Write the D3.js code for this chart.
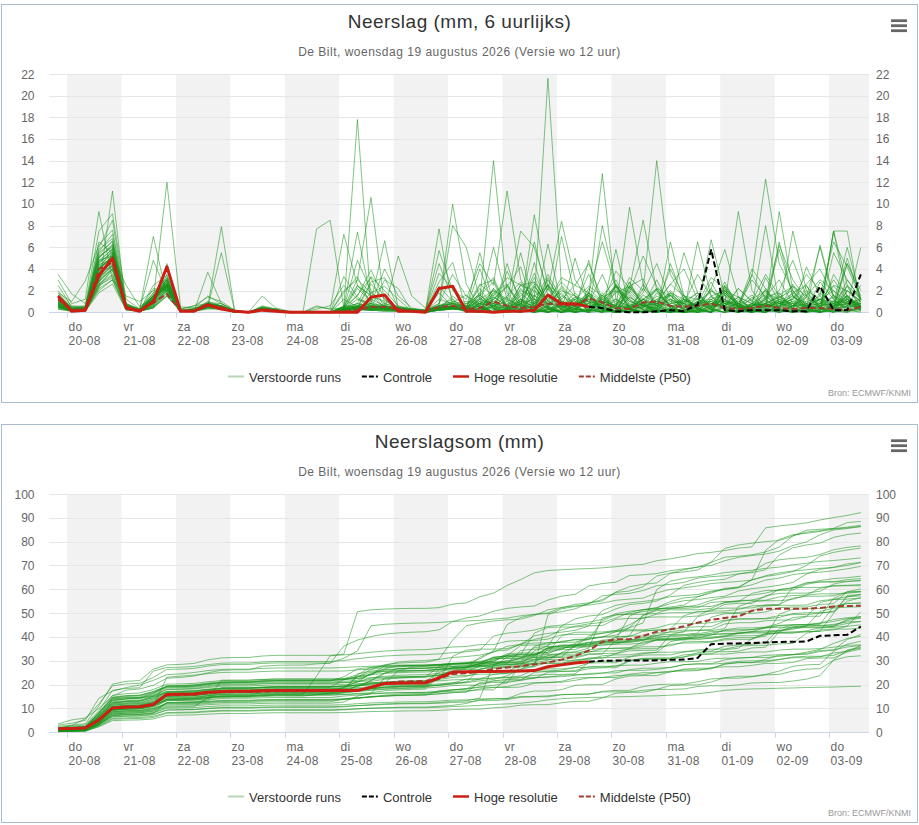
<!DOCTYPE html>
<html>
<head>
  <meta charset="utf-8">
  <title>Neerslag De Bilt - ECMWF pluim</title>
  <script src="https://d3js.org/d3.v7.min.js"></script>
  <style>
    body { margin: 0; background: #fff; }
    svg { font-family: "Liberation Sans", Arial, sans-serif; }
    .tick-label { fill: #666; font-size: 12px; }
    .x-label { fill: #666; font-size: 12px; letter-spacing: 0.3px; }
    .title { fill: #333; font-size: 19px; letter-spacing: 0.5px; }
    .subtitle { fill: #666; font-size: 12px; letter-spacing: 0.5px; }
    .legend-text { fill: #333; font-size: 13px; }
    .credit { fill: #999; font-size: 9px; }
  </style>
</head>
<body>
<svg id="chart" width="919" height="825"></svg>
<script>
// dagen op de x-as (middernacht lokale tijd)
const dayNames = ["do","vr","za","zo","ma","di","wo","do","vr","za","zo","ma","di","wo","do"];
const dayDates = ["20-08","21-08","22-08","23-08","24-08","25-08","26-08","27-08","28-08","29-08","30-08","31-08","01-09","02-09","03-09"];

// 6-uurlijkse neerslag (mm) van de 50 verstoorde runs
// stap 0 = wo 19-08 20 uur, daarna elke 6 uur (60 stappen)
const members = [
  [2.5,0.5,0.6,7.5,9.1,1.2,0.3,4.8,1.8,0.2,0.4,1.5,0.8,0.2,0,0.6,0.3, 0,0,0,0,0.5,17.8,0.8,0.3,0.2,0.1,0,0.3,1.5, 0.5,2.6,1.5,3.2,2.5,2.8,1.0,0.3,0.3,0.2,0.3,0.5,0.6,0.4,1.5,0.8,1.0,1.2,0.5,0.8,1.0,0.5,8.0,0.8,0.6,0.7,1.2,1.0,0.9,1.2],
  [1.8,1.0,2.9,6.2,7.6,0.8,0.2,2.5,3.4,0.1,0.3,1.0,0.6,0.1,0,0.4,0.2, 0,0,0,0,2.0,3.0,10.6,0.6,0.3,0.2,0.1,0.2,0.4, 0.2,0.3,0.5,0.4,1.0,0.6,0.3,0.8,1.2,2.4,1.5,3.0,0.6,1.8,4.5,1.2,0.5,0.8,3.2,2.2,0.4,0.6,1.2,2.0,4.8,1.5,0.6,1.0,2.4,0.5],
  [3.5,1.7,0.8,4.0,5.2,2.5,0.5,1.5,3.0,0.3,0.6,1.4,1.0,0.2,0,1.5,0.4, 0.1,0,0.5,0.3,7.2,2.5,1.5,1.0,0.5,0.3,0.2,0.8,3.5, 1.5,0.8,2.0,1.2,0.6,0.4,2.5,1.6,0.8,3.5,1.0,0.6,2.8,0.3,0.5,1.2,0.8,0.6,2.2,5.8,1.4,0.8,0.6,0.5,1.8,2.5,0.4,0.3,0.6,0.8],
  [1.2,0.3,0.4,6.5,5.5,0.6,0.2,1.8,2.5,0.1,0.2,0.9,0.8,0.1,0,0.4,0.2, 0,0,0,0,0.3,1.2,0.8,4.0,1.5,0.4,0.2,0.6,8.0, 6.0,1.2,0.8,0.5,0.3,1.5,2.4,1.0,0.6,0.8,3.5,0.6,0.4,1.2,2.0,0.6,0.8,1.8,0.6,0.4,0.8,0.5,1.2,6.2,3.0,1.2,0.8,2.4,1.2,0.6],
  [0.8,0.2,0.2,3.8,4.2,0.5,0.2,1.2,12.0,0.5,0.4,0.6,0.5,0.1,0,0.3,0.2, 0,0,0,0,0,0.5,0.3,0.6,0.4,0.2,0.1,0.3,0.5, 0.4,1.8,3.2,0.5,2.5,2.0,1.2,2.8,1.5,1.0,0.6,1.8,2.4,1.2,0.8,2.6,1.5,0.5,2.0,1.0,0.8,3.4,12.3,4.5,2.0,0.6,0.8,1.0,0.5,0.6],
  [0.6,0.1,0.2,3.0,5.5,0.4,0.1,0.8,3.2,0.1,0.1,0.6,0.5,0,0,0.3,0.2, 0,0,0,0,0.2,0.4,0.3,0.8,0.4,0.2,0.1,5.7,2.0, 1.2,4.5,2.5,11.2,3.0,1.2,0.8,2.0,1.5,0.6,0.8,3.8,2.2,1.0,0.6,4.0,1.5,1.2,0.6,2.0,1.4,0.8,0.6,1.2,2.4,1.5,3.0,2.0,0.6,0.8],
  [0.5,0.1,0.1,2.4,4.0,0.3,0.1,0.5,4.5,0.1,0.2,0.8,0.6,0.1,0,0.2,0.1, 0,0,0,0,0.6,0.4,0.5,0.3,0.2,0.1,0.1,0.4,0.6, 0.5,0.8,0.6,1.0,7.5,6.0,2.0,8.4,3.0,1.2,0.6,2.4,1.8,0.5,1.0,2.6,4.0,1.2,0.8,0.5,2.2,1.0,3.5,1.5,0.6,0.4,1.2,2.0,1.0,0.6],
  [1.5,0.4,0.3,5.8,6.8,0.6,0.2,1.5,2.2,0.1,0.2,0.7,0.5,0.1,0,0.5,0.3, 0,0,0.1,0,0.5,0.8,3.3,2.0,0.6,0.3,0.1,1.2,0.8, 0.4,0.6,1.2,2.5,0.8,3.6,1.0,0.5,0.8,1.8,6.5,2.2,1.0,0.6,0.8,1.2,0.5,0.4,1.5,0.8,0.6,1.2,2.0,0.8,1.5,0.6,0.4,0.6,0.8,1.0],
  [0.4,0.2,0.2,2.2,11.2,0.3,0.1,0.4,1.5,0.1,0.1,0.5,0.4,0,0,0.2,0.1, 0,0,0,0,0.1,0.3,0.2,0.4,0.3,0.2,0,0.3,0.6, 0.8,1.2,2.0,0.6,1.5,2.8,1.0,3.2,2.5,4.5,1.2,0.6,1.8,5.2,2.4,1.0,0.8,3.5,1.5,2.0,0.6,3.0,1.4,0.8,1.2,2.6,4.0,1.5,1.0,0.8],
  [1.0,0.2,0.3,4.2,5.0,0.4,0.1,1.2,2.8,0.1,0.2,0.6,0.5,0.1,0,0.3,0.2, 0,0,0,0,0.2,0.5,0.4,0.6,0.3,0.1,0.1,0.4,0.5, 0.5,0.8,0.6,1.5,2.8,1.2,21.6,2.5,1.0,0.6,0.8,1.2,0.5,0.4,2.2,1.5,0.6,0.8,1.0,0.5,0.4,0.6,1.8,1.2,0.8,0.5,0.6,0.4,0.8,1.2],
  [0.9,0.3,0.4,5.0,6.2,0.5,0.2,1.6,3.0,0.1,0.2,0.8,0.6,0.1,0,0.4,0.2, 0,0,0,0,0.3,0.6,0.8,0.4,0.3,0.2,0.1,0.6,1.0, 0.6,1.0,0.8,0.5,1.2,0.8,2.5,1.0,0.6,1.5,12.8,1.2,0.5,0.8,1.0,0.6,0.4,0.8,2.0,1.2,0.6,0.4,0.8,1.5,0.6,2.0,1.2,0.8,0.4,0.6],
  [0.7,0.2,0.2,3.2,4.5,0.4,0.1,1.0,3.0,0.1,0.1,0.5,7.9,0,0,0.3,0.2, 0,0,0,0,0,0.2,0.3,0.6,0.4,0.2,0.1,0.5,0.8, 1.0,0.8,1.4,0.6,2.0,1.5,0.8,1.2,2.5,1.8,1.0,0.6,3.2,2.0,14.0,3.5,1.2,0.6,0.8,1.0,0.6,0.4,0.8,0.5,1.0,0.6,0.8,0.4,0.5,0.6],
  [2.0,0.6,0.5,6.0,8.5,0.8,0.3,7.0,1.5,0.1,0.3,0.8,0.6,0.1,0,0.4,0.2, 0,0,0,0,0.4,0.8,0.6,0.5,0.3,0.2,0.1,0.3,0.5, 0.4,0.6,6.0,1.2,0.5,0.8,1.5,0.6,0.4,0.8,1.2,2.4,1.0,0.6,0.8,1.8,1.2,0.5,0.8,0.6,2.2,1.0,0.6,0.8,1.2,3.5,2.0,0.8,1.5,0.6],
  [1.2,0.2,0.3,4.8,5.2,0.5,0.2,1.4,2.6,0.1,0.2,0.7,0.5,0.1,0,0.3,0.2, 0,0,0,0,0.3,2.4,1.6,0.3,0.2,0.1,0,0.6,1.2, 0.2,2.5,3.0,0.3,0,0.8,3.5,1.2,0,0.2,1.8,0.4,9.7,2.5,0.6,0.1,0,0.3,2.2,0.4,0,0.6,1.4,3.0,0.8,0.1,0,0.5,0.2,0],
  [0.8,0.1,0.2,3.6,4.8,0.6,0.2,1.2,2.4,0.2,0.3,0.9,0.6,0.1,0,0.4,0.2, 0,0,0,0,0.5,7.4,1.2,0.6,0.4,0.2,0.1,0.4,0.8, 0,0.3,1.8,2.6,0.4,0,0.2,7.0,1.5,0,0.1,0.6,2.4,3.1,0.2,0,0,0.4,2.8,0.5,0,0.1,1.2,0.3,2.6,0.8,0,0.2,1.6,0.3],
  [0.5,0.2,0.1,2.8,4.0,0.4,0.2,0.8,3.5,0.1,0.1,0.5,5.5,0,0,0.2,0.2, 0,0,0,0,0.2,0.4,0.6,0.3,5.2,1.5,0.4,0.2,0.6, 0.1,0,1.2,2.4,4.2,0.3,0,1.5,0.6,0,8.0,2.5,0.2,0,0.4,2.0,0.8,0,0.1,1.6,0.4,3.5,1.2,0,0.2,2.4,1.0,0.1,0,0.6],
  [1.4,0.3,0.5,5.2,6.0,0.7,0.3,1.8,3.2,0.2,0.2,0.6,0.5,0.1,0,0.3,0.2, 0,0,0,0,1.8,3.3,0.6,0.5,0.2,0.1,0.1,0.3,0.5, 0,0.2,2.2,1.0,0.3,9.0,2.4,0.2,0,0.5,0.1,2.6,0.4,0,1.8,0.6,0,0.2,0.5,2.8,0.4,0,3.2,1.0,0.1,0,0.8,3.0,1.2,0.2],
  [1.0,0.2,0.3,4.0,5.8,0.5,0.1,1.0,2.9,0.1,0.2,0.8,0.6,0.1,0,0.4,0.2, 0,0,0,0,0.3,0.5,2.8,3.2,0.4,0.3,0.2,0.6,0.4, 0.3,1.6,2.8,0.2,0,0.4,3.2,0.8,0,1.5,0.6,0.1,2.2,8.5,2.0,0.3,0,0,0.6,2.5,0.8,0.1,0,1.4,0.6,0.2,2.8,1.2,0.1,0.3],
  [0.6,0.1,0.2,2.6,3.8,0.3,0.1,0.6,2.2,0.1,0.1,3.7,0.8,0.1,0,0.5,0.3, 0,0,0,0,0.5,3.0,1.8,0.8,0.5,0.3,0.2,4.5,1.2, 0.2,0,0.8,2.4,0.5,0,1.6,0.3,0,2.2,1.0,0,0.1,0.6,3.0,0.4,0,6.5,1.5,0.2,0,0.8,2.0,0.3,0,0.1,1.8,0.6,1.2,0.2],
  [1.3,0.4,0.4,4.6,5.5,0.6,0.2,2.2,2.0,0.1,0.2,0.6,0.5,0.1,0,0.3,0.2, 0,0,0,0,0.2,0.3,0.5,0.4,0.3,0.1,0.1,0.8,10.0, 2.6,0.4,0,0.2,1.8,0.6,0,0.3,1.2,0.1,0.8,2.4,0.3,0,0.2,0.6,5.5,1.8,0.2,0,0.6,1.6,0.2,0,7.5,2.0,0.3,0,1.0,0.4],
  [0.8,0.2,0.2,3.5,4.6,0.4,0.2,1.2,2.5,0.1,0.2,0.6,0.4,0.1,0,0.3,0.2, 0,0,0.3,0.6,2.5,1.2,0.6,0.4,0.3,0.2,0.1,0.5,0.8, 0.4,1.8,0.3,0,2.6,0.8,0.1,0,1.4,0.6,0,2.0,1.2,0.2,0,6.5,1.5,0.3,0,0.8,9.3,2.0,0.4,0,0.6,1.8,0.5,0,0.2,0.6],
  [1.1,0.2,0.3,4.4,4.9,0.5,0.2,1.3,3.1,0.1,0.2,0.7,0.5,0.1,0,0.3,0.2, 0,0,0,0,0.4,4.8,2.0,0.3,0.2,0.1,0,0.4,0.6, 0.2,0.6,0,3.8,1.2,0,0.3,2.4,0.5,0,1.6,0.2,0,0.8,2.2,0.4,0,0.5,6.7,1.5,0.1,0,0.6,1.8,0.3,0,1.0,0.4,5.0,1.2],
  [0.9,0.2,0.2,3.9,5.1,0.4,0.1,1.1,2.7,0.1,0.2,0.6,0.5,0.1,0,0.3,0.2, 0,0,0,0,0.3,0.8,0.5,0.4,0.3,0.2,0.1,0.6,0.9, 1.6,0.4,0,0.2,0.8,2.6,0.3,0,0.6,1.8,0.2,0,2.4,0.8,0.1,0,1.2,0.4,0,2.0,0.6,0.2,0.8,5.8,1.5,0.3,0,7.5,1.2,0.2],
  [1.6,0.5,0.4,5.5,6.5,0.8,0.2,1.6,2.4,0.1,0.3,0.8,0.5,0.1,0,0.4,0.2, 0,0,0,0,0.2,0.4,1.8,2.4,1.2,0.1,0.1,0.3,0.5, 0.3,0,2.2,0.6,0,0.4,3.0,1.0,0,0.2,0.8,2.6,0.4,0,0.1,1.8,0.6,0,0.2,2.4,0.5,0,0.8,0.3,0,1.4,6.0,1.2,0.2,0.4],
  [0.5,0.1,0.1,2.5,3.2,0.3,0.1,0.5,2.0,0.1,0.1,0.4,0.3,0,0,0.2,0.1, 0,0,0,0,0.2,0.5,0.4,0.3,0.2,0.1,0,0.3,0.5, 0.2,1.2,14.0,1.8,0.2,0,0.6,2.2,0.4,0,1.4,0.3,0,2.6,0.8,0.1,0,1.6,0.4,2.2,0.8,0,0.3,1.6,2.4,0.6,0,7.5,2.5,0.4],
  [1.2,0.3,0.3,4.5,5.6,0.5,0.2,1.4,2.7,0.1,0.2,0.7,0.5,0.1,0,0.4,0.2, 0,0,0,0,3.3,1.4,0.6,0.5,0.3,0.2,0.1,0.4,0.6, 0.1,0,1.6,0.4,0,2.4,0.6,0,0.3,1.2,0.2,0,2.0,0.8,0,0.4,1.6,0.2,0,1.2,0.4,0,0.6,9.3,2.0,0.3,0,0.8,1.4,0.2],
  [0.7,0.2,0.2,3.8,5.3,0.4,0.2,1.0,2.6,0.1,0.2,0.6,0.4,0.1,0,0.3,0.2, 0,0,0,0,0.4,0.6,0.5,0.4,0.3,0.2,0.1,7.7,0.6, 0.2,1.4,0.3,0,0.6,6.5,1.5,0.2,0,1.8,0.4,0,0.2,2.2,0.6,0,1.0,0.3,0,2.4,0.8,0.1,0,0.6,1.6,0.4,0,0.3,4.5,1.5],
  [1.5,0.3,0.4,5.0,6.3,0.6,0.2,1.5,2.8,0.1,0.2,0.7,0.5,0.1,0,0.3,0.2, 0,0,0,0,0.2,0.3,0.4,3.0,2.2,0.1,0,0.3,0.4, 0.4,0,1.2,0.3,0,2.0,0.5,0,0.2,1.6,0.3,0,0.8,0.2,0,1.8,0.6,0,0.3,1.0,0.2,0,2.2,0.4,0,0.6,0.2,7.5,7.5,0.4],
  [0.6,0.1,0.2,3.0,4.3,0.4,0.1,0.8,2.3,0.1,0.1,0.5,0.4,0,0,0.3,0.2, 0,0,0,0,0.3,0.5,0.8,0.6,0.4,0.2,0.1,0.6,0.8, 0.6,2.2,0.4,0,1.0,3.2,0.5,0,0.3,1.6,0.2,0,2.4,0.8,0,0.2,1.4,0.4,0,1.8,0.6,4.0,2.2,0.3,0,0.8,1.2,0.2,0.6,6.0],
  [1.3,0.3,0.3,4.6,5.9,0.6,0.2,1.3,2.5,0.1,0.2,0.6,0.5,0.1,0,0.3,0.2, 0,0,0,0,0.5,1.5,3.9,1.2,0.4,0.2,0.1,0.3,0.5, 0.1,0,0.8,0.3,5.5,0.6,0,0.2,1.2,0.3,0,0.4,1.6,0.2,0,0.1,0.8,0.3,0,0.5,1.4,0.2,0,0.6,1.2,0.3,0,0.2,3.0,1.2],
  [1.0,0.2,0.3,4.1,5.0,0.5,0.2,1.2,2.6,0.1,0.2,0.7,0.5,0.1,0,0.4,0.2, 0,0,0,0,0.2,0.6,0.4,0.5,0.3,0.2,0.1,2.8,4.6, 0.3,1.6,0.4,0,0.2,2.4,0.8,0,0.1,1.8,0.6,0,0.3,1.2,2.2,0.4,0,0.2,1.4,0.6,0,0.8,1.6,0.2,0,0.4,6.2,1.5,0.3,0.2],
  [0.8,0.2,0.2,3.4,4.7,0.4,0.1,1.1,2.4,0.1,0.2,0.6,0.4,0.1,0,0.3,0.2, 0,0,0.6,0.3,0.4,0.6,0.5,0.4,0.3,0.2,0.1,0.4,0.6, 0.2,0,1.8,0.6,0,0.4,2.6,0.3,0,1.2,0.4,0,2.8,0.6,0.1,0,1.0,1.8,0.4,0,0.2,1.4,0.3,6.5,1.5,0.2,0,0.6,1.2,0.8],
  [1.8,0.4,0.5,5.6,7.2,0.7,0.3,1.5,2.2,0.1,0.2,0.7,0.5,0.1,0,0.3,0.2, 0,0,0,0,0.2,1.6,3.2,0.3,0.2,0.1,0.1,0.3,0.4, 0.2,0.6,0,0.3,1.2,0.4,0,0.2,5.0,0.8,0,0.1,0.6,1.0,0.2,0,0.4,1.2,0.3,0,0.2,0.8,0.4,0,0.6,1.4,0.3,0,2.0,1.0],
  [0.5,0.1,0.1,2.9,4.1,0.3,0.1,0.7,2.1,0.1,0.1,0.5,0.3,0,0,0.2,0.1, 0,0,0,0,0.5,2.5,1.0,6.6,0.4,0.2,0.1,0.6,0.8, 0.4,0,1.4,0.6,0.2,0,2.2,0.5,0,0.3,1.6,0.4,0,0.8,0.2,4.5,1.2,0.3,0,0.6,1.4,0.2,0,0.8,1.8,0.4,0,0.6,1.0,0.2],
  [1.1,0.3,0.3,4.3,5.4,0.5,0.2,1.3,2.6,0.1,0.2,0.6,0.5,0.1,0,0.3,0.2, 0,0,0,0,0.3,0.4,0.5,0.3,0.2,0.1,0.1,0.4,0.5, 0.3,5.5,0.8,0,0.2,1.0,0.4,0,0.6,1.6,0.2,0,0.4,1.2,0.6,0,0.2,0.8,0.3,0,1.2,0.4,0,0.6,0.2,4.2,1.5,0.3,0,0.4],
  [0.9,0.2,0.2,3.7,4.9,0.4,0.2,1.0,2.5,0.1,0.2,0.6,0.4,0.1,0,0.3,0.2, 0,0,7.7,8.5,0.4,0.5,0.6,0.5,0.3,0.2,0.1,0.5,0.6, 0.2,0.8,0,1.4,0.3,0,0.6,1.8,0.2,0,0.4,1.2,0.3,0,0.8,1.6,0.2,0,0.4,1.0,0.6,0,0.2,1.2,0.4,0,0.6,0.8,6.0,1.2],
  [1.4,0.3,0.4,5.1,6.1,0.6,0.2,1.4,2.4,0.1,0.2,0.6,0.5,0.1,0,0.3,0.2, 0,0,0,0,0.2,0.3,0.4,0.3,0.2,0.1,0.1,3.6,2.2, 0.1,0.4,0,0.8,0.2,0,6.3,0.6,0,0.2,0.8,0.3,0,0.4,1.2,0.2,0,0.1,0.6,0.8,0.2,0,0.4,1.0,0.3,0,0.2,0.6,1.5,0.6],
  [0.3,0.1,0.1,2.0,3.0,0.2,0.1,0.4,1.8,0.1,0.1,0.4,0.3,0,0,0.2,0.1, 0,0,0,0,0.2,0.4,0.3,0.2,0.2,0.1,0,0.3,0.4, 0.8,1.6,0.4,0,2.2,1.0,0,0.6,1.8,0.3,0,2.4,1.2,0.2,0,1.6,0.8,0,0.4,2.0,0.6,0,1.4,1.8,0.3,0,1.2,0.6,4.5,2.0],
  [0.6,0.2,0.2,3.1,4.4,0.4,0.1,0.9,2.2,0.1,0.1,0.5,0.4,0.1,0,0.2,0.1, 0,0,0,0,0.3,0.4,0.5,0.4,0.3,0.2,0.1,0.4,0.5, 0.3,1.2,0.6,0,0.2,1.6,0.4,0,0.8,1.0,0.2,0,1.4,0.6,0,0.3,1.2,0.4,0,1.8,0.6,0,0.2,1.0,0.8,0,0.4,1.6,0.6,2.5],
  [1.0,0.2,0.3,4.0,5.2,0.5,0.2,1.1,2.5,0.1,0.2,0.6,0.5,0.1,0,0.3,0.2, 0,0,0,0,0.3,2.2,1.0,0.4,0.2,0.1,0.1,0.3,0.4, 0.2,0,0.6,0.3,0,0.8,0.4,0,0.2,4.8,0.6,0,0.3,0.8,0.2,0,0.4,1.0,0.2,0,0.6,0.3,0,0.8,0.4,0,0.2,0.6,0.8,0.2],
  [0.4,0.1,0.1,2.2,3.0,0.3,0.1,0.5,1.6,0.1,0.1,0.4,0.3,0,0,0.2,0.1, 0,0,0,0,0.1,0.3,0.2,0.1,0.1,0,0,0.2,0.3, 0.2,0.3,0.4,0.2,0.3,0.6,0.8,0.5,0.3,0.2,0.1,0.2,0.1,0.2,0.1,0.3,0.2,0.4,0.6,0.8,0.4,0.2,0.1,0.2,0.1,0.2,0.1,0.1,0.2,0.1],
  [0.5,0.1,0.2,2.4,3.4,0.3,0.1,0.6,1.8,0.1,0.1,0.5,0.3,0,0,0.2,0.1, 0,0,0,0,0.2,0.3,0.2,0.3,0.2,0.1,0,0.2,0.3, 0.2,0.6,0,0.4,1.0,0.2,0,0.8,0.3,0,1.2,0.4,0,1.6,0.8,0.2,0,1.0,1.2,0.3,0,0.6,0.8,0.2,1.4,0.8,0.2,3.5,1.5,0.4],
  [0.6,0.1,0.2,2.6,3.5,0.3,0.1,0.7,2.0,0.1,0.1,0.5,0.3,0,0,0.2,0.1, 0,0,0,0,0.2,0.4,0.3,0.2,0.2,0.1,0,0.3,0.4, 0.1,0.4,0,0.2,0.8,0,0.3,0.6,0,0.2,0.8,0.1,0,0.6,0.4,0,0.2,1.0,0.3,0,0.4,0.8,0.2,0,0.6,0.8,1.5,6.5,4.2,1.2],
  [0.7,0.2,0.2,2.9,4.0,0.4,0.1,0.8,2.1,0.1,0.1,0.5,0.4,0,0,0.2,0.1, 0,0,0,0,1.2,0.5,0.4,0.3,0.2,0.1,0.1,1.8,0.5, 0.2,0.8,0,0.3,1.2,0.4,0,0.6,1.4,0.2,0,0.8,0.3,0,1.0,0.6,0,0.2,1.2,0.4,0,0.6,0.8,0,0.4,1.6,0.3,0,2.5,1.2],
  [0.9,0.2,0.2,3.6,4.8,0.4,0.2,1.0,2.4,0.1,0.2,0.6,0.4,0.1,0,0.3,0.2, 0,0,0,0,0.2,0.3,0.2,0.2,0.1,0.1,0,0.2,0.3, 0.2,0.4,0,4.5,0.6,0,0.2,0.8,0.3,0,0.6,1.0,0.2,0,0.4,0.8,1.2,0.2,0,0.4,0.8,0.2,0,0.6,1.0,0.3,0,0.4,2.0,1.0],
  [1.2,0.3,0.3,4.8,5.8,0.6,0.2,1.3,2.5,0.1,0.2,0.6,0.5,0.1,0,0.3,0.2, 0,0,0,0,0.2,0.3,0.3,0.2,0.2,0.1,0,2.4,1.0, 0.1,0.6,0,0.3,0.8,0.2,0,0.4,1.0,0.2,0,0.6,0.3,0,0.8,0.6,0,0.2,1.0,0.3,0,0.4,0.8,0.2,0,0.6,1.2,0.3,1.2,0.6],
  [0.3,0.1,0.1,1.8,2.6,0.2,0.1,0.4,1.5,0.1,0.1,0.3,0.3,0,0,0.2,0.1, 0,0,0,0,0.1,0.2,0.2,0.1,0.1,0.1,0,0.2,0.3, 0.2,0,0.6,0.3,0.8,0.2,0,0.8,0.6,0,1.4,2.0,0.4,0,1.2,1.6,0.3,0,1.2,1.8,0.6,0,0.8,1.4,2.0,0.6,0.2,5.5,3.0,1.2],
  [0.7,0.2,0.2,3.2,4.3,0.4,0.1,0.9,2.3,0.1,0.1,0.5,0.4,0.1,0,0.2,0.1, 0,0,0,0,0.3,0.4,0.3,0.4,0.3,0.1,0.1,0.4,0.5, 0.3,4.0,0.6,0,0.2,1.2,0.4,0,0.6,0.8,0.2,0,1.4,0.6,0,0.3,1.2,0.4,0,1.6,0.8,0.2,0,0.4,0.8,1.0,1.2,2.5,2.0,1.0],
  [1.6,0.4,0.4,5.3,6.6,0.7,0.2,1.5,2.3,0.1,0.2,0.7,0.5,0.1,0,0.3,0.2, 0,0,0,0,0.3,0.4,2.6,1.2,0.2,0.1,0.1,0.3,0.4, 0.4,1.0,0.2,0,0.8,1.2,0.3,0,0.6,1.4,0.2,5.8,0.4,0,0.6,1.0,0.2,0,0.8,1.2,0.3,0,0.6,1.0,0.4,0,0.8,1.4,0.8,0.4],
  [3.0,0.8,1.2,9.3,3.0,1.5,1.0,2.0,2.4,0.3,0.6,0.8,0.5,0.1,0,0.3,0.2, 0,0,0,0,0.2,0.3,0.2,0.3,0.2,0.1,0,0.2,0.3, 0.2,0.8,1.0,0.2,0,4.6,0.4,0,0.8,1.0,0.2,0,0.6,1.2,0.3,0,0.4,0.8,1.0,0.2,0,0.6,1.0,0.8,0.2,0,0.6,0.8,1.2,0.4]
];
// hoge resolutie: 40 stappen (tot 29-08 20 uur)
const hres6h = [1.5,0.1,0.2,3.4,5.0,0.4,0.1,1.0,4.2,0.1,0.1,0.7,0.3,0.1,0,0.2,0.1, 0,0,0,0,0,0,1.4,1.6,0.1,0.1,0,2.2,2.4, 0.1,0.1,0,0.1,0.1,0.2,1.6,0.8,0.8,0.5];
// controle-run: getoond vanaf het einde van de hoge resolutie (stap 39)
const controlStart = 39;
const control6h = [0.5,0.4,0.1,0,0,0.1,0.2,0.1,0.7,5.8,0.2,0.1,0.2,0.2,0.2,0.1,0.1,2.4,0.2,0.2,3.5];
const p50_6h = [1.2,0.2,0.3,4.0,4.6,0.5,0.2,0.9,1.7,0.1,0.2,0.6,0.5,0.05,0,0.3,0.2, 0,0,0,0,0.1,0.2,0.5,0.5,0.3,0.1,0.1,0.5,0.6, 0.3,0.4,1.0,0.6,0.4,0.5,0.8,0.7,0.6,1.3,0.9,0.4,0.3,0.9,1.0,0.6,0.5,0.6,0.8,0.4,0.3,0.4,0.6,0.4,0.3,0.4,0.4,0.3,0.2,0.5];
// mediaan van de neerslagsom (mm)
const p50Sum = [1.5,1.7,1.8,5.2,10.2,10.5,10.7,11.8,15.5,15.7,15.9,16.4,16.8,16.9,16.9,17.1,17.2, 17.2,17.2,17.3,17.3,17.4,17.6,18.8,20.6,21.3,21.4,21.5,22.6,24.5, 24.8,25.4,26.6,27.2,27.8,28.5,29.3,30.5,32.0,34.3,38.0,39.0,39.0,40.5,42.2,43.2,44.5,46.0,47.2,48.0,48.6,51.0,51.8,51.8,51.8,51.9,52.2,52.8,53.0,53.1];

// uren na do 20-08 00 uur voor elke stap
const stepHours = members[0].map((d, i) => -4 + 6 * i);

const W = 919;
const plotLeft = 49, plotRight = 869;
const svg = d3.select("#chart");

const x = d3.scaleLinear().domain([-8, 353.6]).range([plotLeft, plotRight]);

// series als [uur, waarde] paren
const toPoints = (vals, start = 0) => vals.map((v, k) => [stepHours[start + k], v]);

const hresSum = Array.from(d3.cumsum(hres6h));
const controlSum = Array.from(d3.cumsum(control6h.slice(1)), v => v + hresSum[controlStart]);
controlSum.unshift(hresSum[controlStart]);

const panels = [
  { top: 0, title: "Neerslag (mm, 6 uurlijks)", yMax: 22, yStep: 2,
    members: members.map(m => toPoints(m)),
    control: toPoints(control6h, controlStart),
    hres: toPoints(hres6h),
    p50: toPoints(p50_6h) },
  { top: 420, title: "Neerslagsom (mm)", yMax: 100, yStep: 10,
    members: members.map(m => toPoints(Array.from(d3.cumsum(m)))),
    control: toPoints(controlSum, controlStart),
    hres: toPoints(hresSum),
    p50: toPoints(p50Sum) }
];

const legendItems = [
  { name: "Verstoorde runs", color: "#b7d7b7", width: 2, dash: null },
  { name: "Controle", color: "#000", width: 2, dash: "5,2" },
  { name: "Hoge resolutie", color: "#cc1f14", width: 2.5, dash: null },
  { name: "Middelste (P50)", color: "#a33b30", width: 2, dash: "5,2" }
];

panels.forEach((p, pi) => {
  const g = svg.append("g").attr("transform", `translate(0,${p.top})`);
  const plotTop = 74, plotBottom = 312.3;
  const y = d3.scaleLinear().domain([0, p.yMax]).range([plotBottom, plotTop]);

  // kader
  g.append("rect")
    .attr("x", 1.5).attr("y", 4.5).attr("width", 916).attr("height", 398)
    .attr("fill", "#fff").attr("stroke", "#a9bccf").attr("stroke-width", 1);

  // titels
  g.append("text").attr("class", "title").attr("x", W / 2).attr("y", 28)
    .attr("text-anchor", "middle").text(p.title);
  g.append("text").attr("class", "subtitle").attr("x", W / 2).attr("y", 56)
    .attr("text-anchor", "middle")
    .text("De Bilt, woensdag 19 augustus 2026 (Versie wo 12 uur)");

  // menu-icoon
  [20.7, 25.7, 30.7].forEach(yy => {
    g.append("line").attr("x1", 891).attr("x2", 907).attr("y1", yy).attr("y2", yy)
      .attr("stroke", "#666").attr("stroke-width", 2.8);
  });

  // grijze banden om de dag
  dayNames.forEach((d, k) => {
    if (k % 2 !== 0) return;
    const x0 = x(24 * k), x1 = Math.min(x(24 * k + 24), plotRight);
    g.append("rect").attr("x", x0).attr("y", plotTop)
      .attr("width", x1 - x0).attr("height", plotBottom - plotTop)
      .attr("fill", "#f2f2f2");
  });

  // horizontale rasterlijnen en y-labels
  const yTicks = d3.range(0, p.yMax + 0.001, p.yStep);
  yTicks.forEach(v => {
    if (v > 0) {
      g.append("line").attr("x1", plotLeft).attr("x2", plotRight)
        .attr("y1", Math.round(y(v)) + 0.5).attr("y2", Math.round(y(v)) + 0.5)
        .attr("stroke", "#e6e6e6").attr("stroke-width", 1);
    }
    g.append("text").attr("class", "tick-label").attr("x", 34.5).attr("y", y(v) + 4.5)
      .attr("text-anchor", "end").text(v);
    g.append("text").attr("class", "tick-label").attr("x", 876).attr("y", y(v) + 4.5)
      .attr("text-anchor", "start").text(v);
  });

  // x-as
  g.append("line").attr("x1", plotLeft).attr("x2", plotRight)
    .attr("y1", Math.round(plotBottom) + 0.5).attr("y2", Math.round(plotBottom) + 0.5)
    .attr("stroke", "#ccd6eb");
  dayNames.forEach((d, k) => {
    const xx = Math.round(x(24 * k)) + 0.5;
    g.append("line").attr("x1", xx).attr("x2", xx)
      .attr("y1", plotBottom).attr("y2", plotBottom + 5.5)
      .attr("stroke", "#ccd6eb");
    const t = g.append("text").attr("class", "x-label");
    t.append("tspan").attr("x", xx + 1).attr("y", plotBottom + 18.5).text(d);
    t.append("tspan").attr("x", xx + 1).attr("y", plotBottom + 32.5).text(dayDates[k]);
  });

  // lijnen
  const clipId = "clip" + pi;
  g.append("clipPath").attr("id", clipId).append("rect")
    .attr("x", plotLeft).attr("y", plotTop - 2)
    .attr("width", plotRight - plotLeft).attr("height", plotBottom - plotTop + 4);
  const lines = g.append("g").attr("clip-path", `url(#${clipId})`);
  const line = d3.line().x(d => x(d[0])).y(d => y(d[1]));

  lines.selectAll(".member").data(p.members).join("path")
    .attr("class", "member")
    .attr("d", line)
    .attr("fill", "none")
    .attr("stroke", "#18961c")
    .attr("stroke-opacity", 0.55)
    .attr("stroke-width", 1)
    .attr("stroke-linejoin", "round");

  lines.append("path").attr("d", line(p.p50))
    .attr("fill", "none").attr("stroke", "#a33b30").attr("stroke-width", 2)
    .attr("stroke-dasharray", "6,3");
  lines.append("path").attr("d", line(p.control))
    .attr("fill", "none").attr("stroke", "#000").attr("stroke-width", 2)
    .attr("stroke-dasharray", "6,3");
  lines.append("path").attr("d", line(p.hres))
    .attr("fill", "none").attr("stroke", "#cc1f14").attr("stroke-width", 3)
    .attr("stroke-linejoin", "round");

  // legenda
  const leg = g.append("g");
  let lx = 0;
  legendItems.forEach(it => {
    const item = leg.append("g").attr("transform", `translate(${lx},0)`);
    item.append("line").attr("x1", 0).attr("x2", 16).attr("y1", 376.5).attr("y2", 376.5)
      .attr("stroke", it.color).attr("stroke-width", it.width)
      .attr("stroke-dasharray", it.dash);
    const txt = item.append("text").attr("class", "legend-text")
      .attr("x", 21).attr("y", 381.5).text(it.name);
    lx += 21 + txt.node().getComputedTextLength() + 21;
  });
  const legW = lx - 21;
  leg.attr("transform", `translate(${W / 2 - legW / 2},0)`);

  // bron
  g.append("text").attr("class", "credit").attr("x", 911).attr("y", 395.5)
    .attr("text-anchor", "end").text("Bron: ECMWF/KNMI");
});
</script>
</body>
</html>
